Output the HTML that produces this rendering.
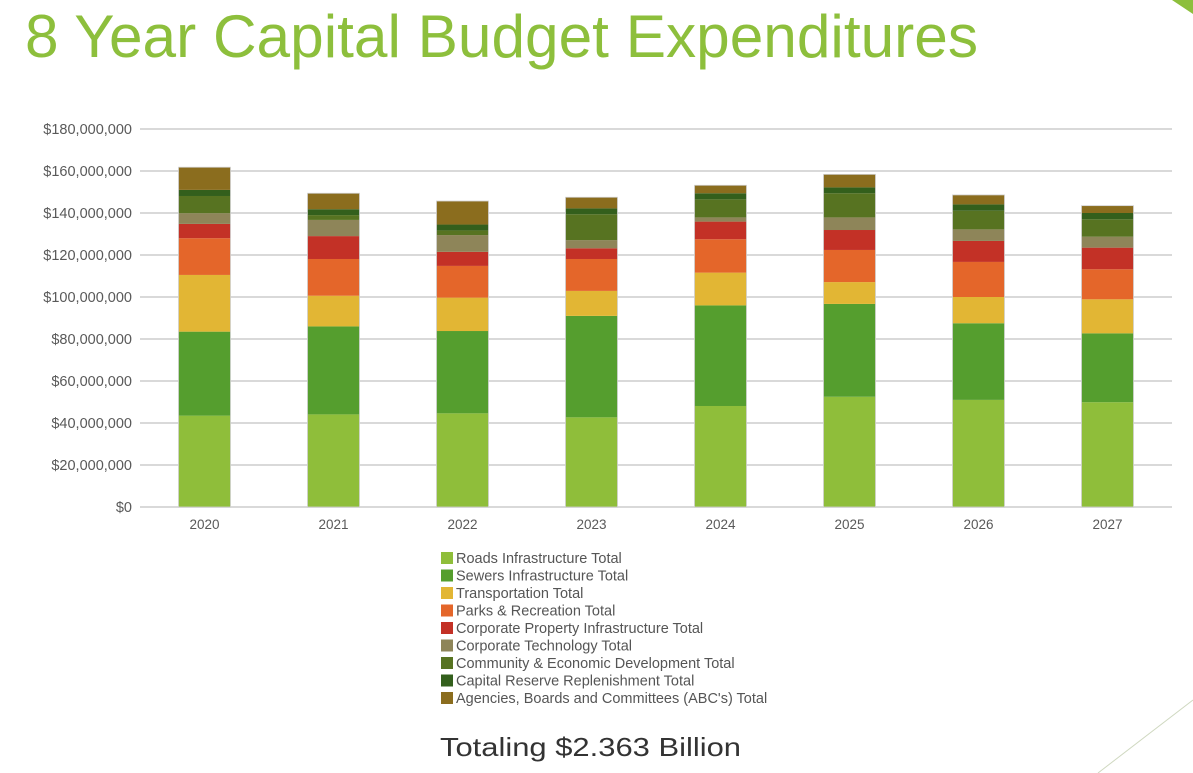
<!DOCTYPE html>
<html><head><meta charset="utf-8"><style>
html,body{margin:0;padding:0;background:#fff;}
svg{display:block;font-family:"Liberation Sans",sans-serif;}
</style></head><body>
<svg id="chart" width="1193" height="773" viewBox="0 0 1193 773">
<text x="25" y="57" font-size="60" fill="#8dbf3c" textLength="953" lengthAdjust="spacingAndGlyphs">8 Year Capital Budget Expenditures</text>
<polygon points="1172,0 1193,0 1193,14" fill="#8dbf3c"/>
<line x1="1098" y1="773" x2="1193" y2="700" stroke="#cfd8c0" stroke-width="1"/>
<g id="grid"></g><g id="bars"></g><g id="axes"></g><g id="legend"></g>
<text x="440" y="756" font-size="26" fill="#333" textLength="301" lengthAdjust="spacingAndGlyphs">Totaling $2.363 Billion</text>
</svg>
<script>
const years = ["2020","2021","2022","2023","2024","2025","2026","2027"];
const seriesNames = ["Roads Infrastructure Total","Sewers Infrastructure Total","Transportation Total","Parks & Recreation Total","Corporate Property Infrastructure Total","Corporate Technology Total","Community & Economic Development Total","Capital Reserve Replenishment Total","Agencies, Boards and Committees (ABC's) Total"];
const roads = [43.5,44.1,44.6,42.7,48.1,52.5,51.0,49.9];
const sewers = [40.0,41.9,39.2,48.3,47.9,44.2,36.5,32.8];
const transportation = [27.0,14.6,15.9,11.9,15.6,10.4,12.5,16.2];
const parks = [17.5,17.5,15.1,15.2,15.9,15.3,16.7,14.3];
const corpProperty = [6.8,10.9,6.7,5.1,8.4,9.5,10.0,10.3];
const corpTech = [5.1,7.7,8.0,3.9,2.0,6.0,5.5,5.2];
const communityDev = [8.2,2.3,2.2,12.3,8.6,11.5,8.9,8.3];
const capitalReserve = [2.9,2.8,2.8,2.8,2.9,2.8,3.0,3.0];
const abcs = [10.8,7.6,11.2,5.3,3.8,6.2,4.5,3.5];
const yTicks = [0,20,40,60,80,100,120,140,160,180];
const yTickLabels = ["$0","$20,000,000","$40,000,000","$60,000,000","$80,000,000","$100,000,000","$120,000,000","$140,000,000","$160,000,000","$180,000,000"];

const allSeries=[roads,sewers,transportation,parks,corpProperty,corpTech,communityDev,capitalReserve,abcs];
const colors=["#8fbe3a","#559e2e","#e2b634","#e4662a","#c33126","#8e8559","#577321","#335f1c","#8b6d1e"];
const NS="http://www.w3.org/2000/svg";
const plotL=140,plotR=1172,y0=507,yTop=129,yMax=180;
const y=v=>y0-(v/yMax)*(y0-yTop);
const band=(plotR-plotL)/years.length;
const x=i=>plotL+band*(i+0.5);
const bw=52;
function mk(tag,attrs,parent){const e=document.createElementNS(NS,tag);for(const k in attrs)e.setAttribute(k,attrs[k]);parent.appendChild(e);return e;}
const grid=document.getElementById('grid'),bars=document.getElementById('bars'),axes=document.getElementById('axes'),legend=document.getElementById('legend');
yTicks.forEach((t,i)=>{
  const l=mk('line',{x1:plotL,x2:plotR,y1:y(t),y2:y(t),stroke:'#d9d9d9','stroke-width':2},grid);
  
  
  const tx=mk('text',{x:132,y:y(t)+5,'text-anchor':'end','font-size':14.5,fill:'#595959'},axes);
  tx.textContent=yTickLabels[i];
  
  
});
years.forEach((yr,i)=>{
  let cum=0;
  allSeries.forEach((s,k)=>{
    const v=s[i];
    const r=mk('rect',{x:x(i)-bw/2,y:y(cum+v),width:bw,height:y(cum)-y(cum+v),fill:colors[k]},bars);
    
    
    cum+=v;
  });
  const o=mk('rect',{x:x(i)-bw/2,y:y(cum),width:bw,height:y0-y(cum),fill:'none',stroke:'#d0d0d0','stroke-width':0.8},bars);
  
  
  const tx=mk('text',{x:x(i),y:529,'text-anchor':'middle','font-size':13.5,fill:'#595959'},axes);
  tx.textContent=yr;
  
  
});
seriesNames.forEach((n,k)=>{
  const yy=552+k*17.5;
  const r=mk('rect',{x:441,y:yy,width:12,height:12,fill:colors[k]},legend);
  
  
  const t=mk('text',{x:456,y:yy+11,'font-size':14.5,fill:'#555'},legend);
  t.textContent=n;
  
  
});
</script>
</body></html>
